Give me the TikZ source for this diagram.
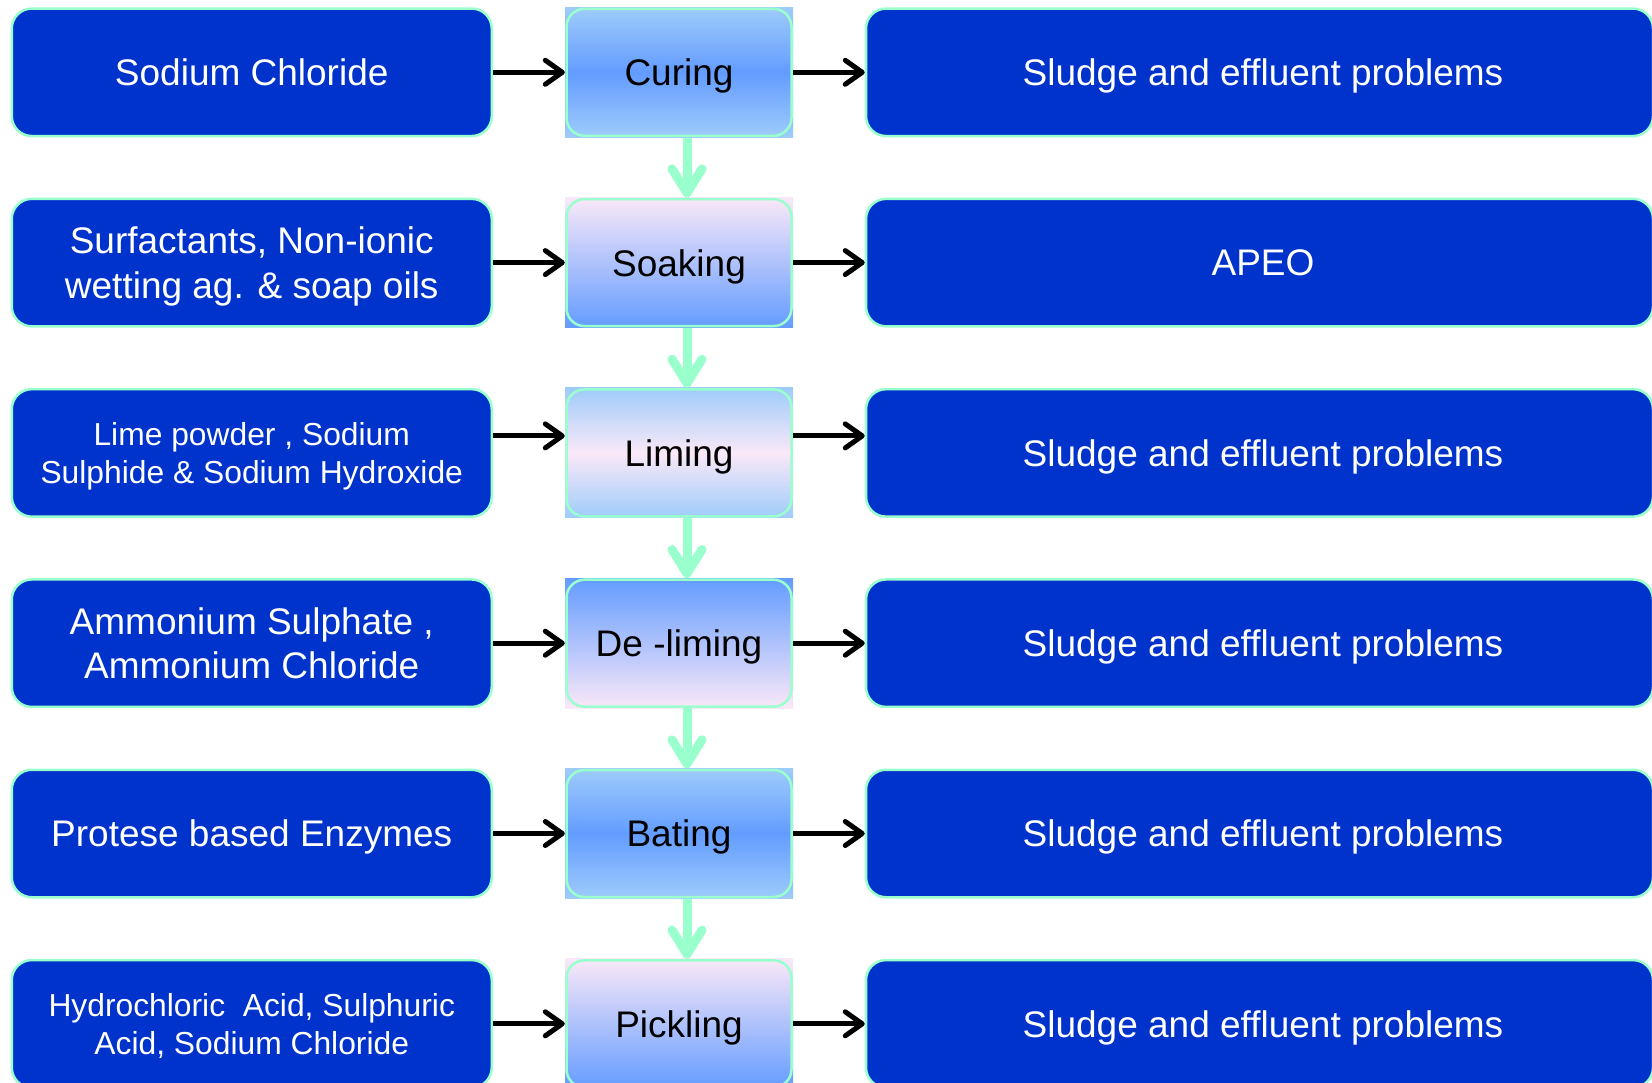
\documentclass[tikz,border=0pt]{standalone}
\usepackage{fontspec}
\setmainfont{Liberation Sans}
\usetikzlibrary{arrows.meta}
\definecolor{boxblue}{RGB}{0,51,204}
\definecolor{aqua}{RGB}{153,255,204}
\definecolor{lblue}{RGB}{158,204,250}
\definecolor{mblue}{RGB}{99,156,255}
\definecolor{pinkish}{RGB}{250,232,248}
\begin{document}
\begin{tikzpicture}[x=1pt,y=-1pt,
  side/.style={draw=aqua, line width=2.5pt, fill=boxblue, rounded corners=20pt,
    minimum height=127.5pt, text=white, align=center, inner sep=0pt, text depth=0pt},
  leftbox/.style={side, minimum width=480pt},
  rightbox/.style={side, minimum width=787pt},
  big/.style={font=\fontsize{37}{44.5}\selectfont},
  small/.style={font=\fontsize{31.8}{38}\selectfont},
  stepbg/.style={minimum width=228pt, minimum height=130pt, inner sep=0pt, draw=none},
  stepfg/.style={draw=aqua, line width=2.5pt, rounded corners=18pt, minimum width=225pt,
    minimum height=127pt, inner sep=0pt, big, text=black, text depth=0pt},
  feed/.style={line width=5pt, -{Straight Barb[length=17pt,width=24pt,round]}},
  flow/.style={aqua, line width=9pt, -{Straight Barb[length=24pt,width=30pt,round]}},
  gradA/.style={top color=lblue, bottom color=lblue, middle color=mblue},
  gradB/.style={top color=pinkish, bottom color=mblue},
  gradC/.style={top color=lblue, bottom color=lblue, middle color=pinkish},
  gradD/.style={top color=mblue, bottom color=pinkish},
]
\useasboundingbox (0,0) rectangle (1652,1082);

% left inputs
\node[leftbox, big]   (l0) at (251.75,72.3)  {Sodium Chloride};
\node[leftbox, big]   (l1) at (251.75,262.6) {Surfactants, Non-ionic\\wetting ag. \& soap oils};
\node[leftbox, small] (l2) at (251.75,452.9) {Lime powder , Sodium\\Sulphide \& Sodium Hydroxide};
\node[leftbox, big]   (l3) at (251.75,643.2) {Ammonium Sulphate ,\\Ammonium Chloride};
\node[leftbox, big]   (l4) at (251.75,833.5) {Protese based Enzymes};
\node[leftbox, small] (l5) at (251.75,1023.8) {Hydrochloric\ \ Acid, Sulphuric\\Acid, Sodium Chloride};

% right outputs
\node[rightbox, big] (r0) at (1259.5,72.3)  {\hspace*{7pt}Sludge and effluent problems};
\node[rightbox, big] (r1) at (1259.5,262.6) {\hspace*{7pt}APEO};
\node[rightbox, big] (r2) at (1259.5,452.9) {\hspace*{7pt}Sludge and effluent problems};
\node[rightbox, big] (r3) at (1259.5,643.2) {\hspace*{7pt}Sludge and effluent problems};
\node[rightbox, big] (r4) at (1259.5,833.5) {\hspace*{7pt}Sludge and effluent problems};
\node[rightbox, big] (r5) at (1259.5,1023.8) {\hspace*{7pt}Sludge and effluent problems};

% process steps: shaded square with rounded border on top
\node[stepbg, gradA] (b0) at (679,72.3)  {};
\node[stepbg, gradB] (b1) at (679,262.6) {};
\node[stepbg, gradC] (b2) at (679,452.9) {};
\node[stepbg, gradD] (b3) at (679,643.2) {};
\node[stepbg, gradA] (b4) at (679,833.5) {};
\node[stepbg, gradB] (b5) at (679,1023.8) {};
\node[stepfg] (c0) at (b0) {Curing};
\node[stepfg] (c1) at (b1) {Soaking};
\node[stepfg] (c2) at (b2) {Liming};
\node[stepfg] (c3) at (b3) {De -liming};
\node[stepfg] (c4) at (b4) {Bating};
\node[stepfg] (c5) at (b5) {Pickling};

% black feed arrows
\draw[feed] (l0.east) -- (b0.west);
\draw[feed] (l1.east) -- (b1.west);
\draw[feed] ([yshift=17pt]l2.east) -- ([yshift=17pt]b2.west);
\draw[feed] (l3.east) -- (b3.west);
\draw[feed] (l4.east) -- (b4.west);
\draw[feed] (l5.east) -- (b5.west);
\draw[feed] (b0.east) -- (r0.west);
\draw[feed] (b1.east) -- (r1.west);
\draw[feed] ([yshift=17pt]b2.east) -- ([yshift=17pt]r2.west);
\draw[feed] (b3.east) -- (r3.west);
\draw[feed] (b4.east) -- (r4.west);
\draw[feed] (b5.east) -- (r5.west);

% green flow arrows
\draw[flow] ([xshift=8pt]b0.south) -- ([xshift=8pt]b1.north);
\draw[flow] ([xshift=8pt]b1.south) -- ([xshift=8pt]b2.north);
\draw[flow] ([xshift=8pt]b2.south) -- ([xshift=8pt]b3.north);
\draw[flow] ([xshift=8pt]b3.south) -- ([xshift=8pt]b4.north);
\draw[flow] ([xshift=8pt]b4.south) -- ([xshift=8pt]b5.north);
\end{tikzpicture}
\end{document}
